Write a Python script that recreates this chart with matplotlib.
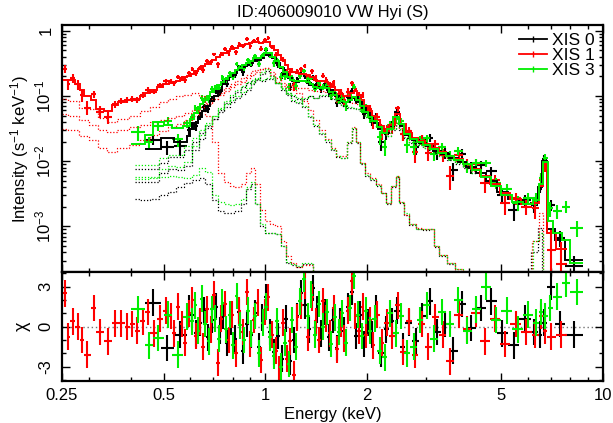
#!/usr/bin/env python3

import matplotlib

matplotlib.use("Agg")
import matplotlib.pyplot as plt
import numpy as np
from matplotlib.lines import Line2D
from matplotlib.ticker import FixedLocator, LogLocator, MultipleLocator, NullFormatter

plt.rcParams["font.family"] = ["Liberation Sans", "DejaVu Sans"]
plt.rcParams["mathtext.fontset"] = "custom"
plt.rcParams["mathtext.rm"] = "Liberation Sans"
plt.rcParams["mathtext.it"] = "Liberation Sans:italic"
plt.rcParams["mathtext.bf"] = "Liberation Sans:bold"

TITLE = "ID:406009010 VW Hyi (S)"
LABELS = ["XIS 0", "XIS 1", "XIS 3"]
COLORS = ["#000000", "#ff0000", "#00ee00"]

# ---------------- XIS 0 (FI) ----------------
xis0_edges = [0.44, 0.49, 0.535, 0.585, 0.600,
              0.616, 0.633, 0.650, 0.668, 0.686, 0.704, 0.723, 0.742, 0.762, 0.783,
              0.804, 0.826, 0.848, 0.871, 0.894, 0.918, 0.943, 0.968, 0.994, 1.021,
              1.048, 1.076, 1.105, 1.135, 1.166, 1.197, 1.229, 1.262, 1.296, 1.331,
              1.367, 1.404, 1.442, 1.481, 1.521, 1.562, 1.604, 1.647, 1.691, 1.737,
              1.784, 1.832, 1.881, 1.932, 1.984, 2.037, 2.092,
              2.16, 2.24, 2.32, 2.41, 2.50, 2.60, 2.72, 2.85, 2.99, 3.14,
              3.31, 3.50, 3.71, 3.94, 4.20, 4.50, 4.84, 5.22, 5.65, 6.10,
              6.40, 6.60, 6.82, 7.20, 7.70, 8.70]
xis0_model = [0.0155, 0.023, 0.020, 0.024, 0.031, 0.038, 0.047, 0.058, 0.07, 0.085,
              0.10, 0.118, 0.15, 0.175, 0.20, 0.225, 0.25, 0.275, 0.30, 0.32,
              0.345, 0.36, 0.38, 0.43, 0.43, 0.38, 0.32, 0.27, 0.22, 0.19,
              0.172, 0.165, 0.168, 0.17, 0.16, 0.145, 0.132, 0.135, 0.138, 0.125,
              0.11, 0.098, 0.088, 0.081, 0.082, 0.092, 0.095, 0.08, 0.065, 0.054,
              0.046, 0.039, 0.031, 0.027, 0.034, 0.048, 0.034, 0.025, 0.021, 0.019,
              0.017, 0.0145, 0.0128, 0.0112, 0.0097, 0.0082, 0.0066, 0.0050, 0.0034, 0.0026,
              0.0022, 0.0023, 0.0040, 0.0102, 0.0009, 0.00062, 0.00031]
xis0_flux = [0.021, 0.0166, 0.017, 0.0296, 0.0355, 0.035, 0.049, 0.068, 0.063, 0.09,
             0.1165, 0.114, 0.162, 0.1546, 0.2076, 0.2061, 0.2753, 0.23, 0.3054, 0.3026,
             0.376, 0.31, 0.405, 0.51, 0.415, 0.315, 0.299, 0.208, 0.233, 0.138,
             0.153, 0.179, 0.213, 0.199, 0.157, 0.191, 0.152, 0.1275, 0.1545, 0.114,
             0.1165, 0.079, 0.092, 0.078, 0.097, 0.1206, 0.087, 0.089, 0.0533, 0.0564,
             0.0418, 0.048, 0.020, 0.026, 0.0362, 0.0558, 0.0258, 0.0264, 0.0166, 0.0218,
             0.0227, 0.0134, 0.0133, 0.0072, 0.0131, 0.008, 0.0086, 0.0071, 0.003, 0.0018,
             0.0025, 0.0021, 0.0037, 0.0107, 0.0021, 0.00066, 0.00025]
xis0_err = [0.003, 0.004, 0.005, 0.004, 0.005, 0.006, 0.007, 0.008, 0.009, 0.01,
            0.011, 0.013, 0.015, 0.017, 0.019, 0.021, 0.023, 0.025, 0.027, 0.029,
            0.031, 0.033, 0.035, 0.038, 0.038, 0.034, 0.03, 0.026, 0.022, 0.02,
            0.019, 0.018, 0.018, 0.018, 0.017, 0.016, 0.015, 0.015, 0.015, 0.014,
            0.013, 0.012, 0.011, 0.01, 0.01, 0.011, 0.011, 0.01, 0.009, 0.008,
            0.007, 0.0065, 0.0055, 0.005, 0.0055, 0.0065, 0.0055, 0.0045, 0.004, 0.0035,
            0.003, 0.0028, 0.0025, 0.0022, 0.002, 0.0017, 0.0014, 0.0011, 0.0008, 0.0006,
            0.0005, 0.0005, 0.0005, 0.0018, 0.0004, 0.00018, 0.0001]
xis0_chi = [1.8, -1.6, -0.6, 1.4, 0.9, -0.5, 0.3, 1.2, -0.8, 0.5,
            1.5, -0.3, 0.8, -1.2, 0.4, -0.9, 1.1, -1.8, 0.2, -0.6,
            1.0, -1.5, 0.7, 2.2, -0.4, -1.9, -0.7, -2.4, 0.6, -2.6,
            -1.0, 0.8, 2.5, 1.6, -0.2, 2.9, 1.3, -0.5, 1.1, -0.8,
            0.5, -1.6, 0.4, -0.3, 1.5, 2.6, -0.7, 0.9, -1.3, 0.3,
            -0.6, 1.4, -2.0, -0.2, 0.4, 1.2, -1.5, 0.3, -1.1, 0.8,
            1.9, -0.4, 0.2, -1.8, 1.7, -0.1, 1.4, 1.9, -0.5, -1.4,
            0.6, -0.4, -0.6, 0.3, 3.0, 0.2, -0.6]

# ---------------- XIS 1 (BI) ----------------
xis1_edges = [0.252, 0.258, 0.264, 0.274, 0.282, 0.291, 0.304, 0.316, 0.332, 0.351,
              0.366, 0.383, 0.397, 0.411, 0.425, 0.441, 0.457, 0.477, 0.499, 0.518,
              0.531, 0.544, 0.558, 0.572, 0.586, 0.601, 0.616, 0.631, 0.647, 0.663,
              0.680, 0.697, 0.714, 0.732, 0.750, 0.769, 0.788, 0.808, 0.828, 0.849,
              0.870, 0.892, 0.914, 0.937, 0.960, 0.984, 1.009, 1.034, 1.060, 1.087,
              1.114, 1.142, 1.170, 1.199, 1.229, 1.260, 1.292, 1.324, 1.357, 1.391,
              1.426, 1.462, 1.498, 1.536, 1.574, 1.613, 1.654, 1.695, 1.737, 1.781,
              1.825, 1.871, 1.918, 1.966, 2.015, 2.065, 2.117,
              2.18, 2.25, 2.33, 2.42, 2.51, 2.61, 2.72, 2.84, 2.97, 3.11,
              3.27, 3.44, 3.63, 3.84, 4.07, 4.33, 4.62, 4.95, 5.32, 5.72,
              6.15, 6.45, 6.62, 6.82, 7.25, 7.80]
xis1_model = [0.175, 0.175, 0.174, 0.150, 0.122, 0.100, 0.086, 0.062, 0.058, 0.072,
              0.082, 0.086, 0.088, 0.090, 0.100, 0.112, 0.122, 0.138, 0.152,
              0.158, 0.165, 0.172, 0.182, 0.195, 0.205, 0.22, 0.24, 0.26, 0.285,
              0.31, 0.335, 0.36, 0.39, 0.42, 0.455, 0.49, 0.52, 0.55, 0.575,
              0.6, 0.62, 0.64, 0.665, 0.66, 0.645, 0.67, 0.66, 0.59, 0.5,
              0.42, 0.35, 0.295, 0.26, 0.235, 0.222, 0.218, 0.218, 0.21, 0.195,
              0.178, 0.167, 0.168, 0.165, 0.152, 0.137, 0.122, 0.108, 0.099, 0.1,
              0.11, 0.117, 0.104, 0.086, 0.07, 0.058, 0.05,
              0.042, 0.034, 0.029, 0.036, 0.053, 0.037, 0.027, 0.0225, 0.0205, 0.0185,
              0.016, 0.014, 0.0122, 0.0107, 0.0092, 0.0076, 0.006, 0.0045, 0.0033, 0.0026,
              0.0022, 0.0023, 0.0042, 0.0095, 0.0008, 0.00045]
xis1_flux = [0.26, 0.1525, 0.1852, 0.150, 0.102, 0.0664, 0.1056, 0.0572, 0.047, 0.0743,
             0.0843, 0.086, 0.0898, 0.0873, 0.104, 0.1241, 0.1165, 0.1452, 0.1676,
             0.1692, 0.158, 0.1945, 0.1852, 0.1746, 0.223, 0.258, 0.2253, 0.2688, 0.249,
             0.3438, 0.3294, 0.432, 0.3036, 0.4404, 0.5162, 0.452, 0.556, 0.466, 0.6278,
             0.582, 0.7396, 0.5789, 0.689, 0.7464, 0.5275, 0.7228, 0.7656, 0.563, 0.4262,
             0.3016, 0.3599, 0.2254, 0.2303, 0.145, 0.2388, 0.2548, 0.2893, 0.1924, 0.2412,
             0.186, 0.148, 0.2041, 0.1764, 0.143, 0.1608, 0.0948, 0.111, 0.0864, 0.1168,
             0.1576, 0.1282, 0.1001, 0.104, 0.064, 0.0625, 0.0388,
             0.0483, 0.0268, 0.0307, 0.0318, 0.0642, 0.026, 0.0289, 0.0137, 0.0213, 0.0134,
             0.0181, 0.0124, 0.006, 0.0126, 0.0088, 0.0092, 0.0046, 0.0051, 0.0023, 0.0027,
             0.002, 0.0019, 0.0051, 0.0089, 0.00043, 0.00027]
xis1_err = [0.034, 0.03, 0.028, 0.025, 0.02, 0.016, 0.014, 0.012, 0.01, 0.009,
            0.009, 0.009, 0.009, 0.009, 0.010, 0.011, 0.011, 0.012, 0.013,
            0.014, 0.014, 0.015, 0.016, 0.017, 0.018, 0.019, 0.021, 0.022, 0.024,
            0.026, 0.028, 0.030, 0.032, 0.034, 0.036, 0.038, 0.040, 0.042, 0.044,
            0.045, 0.046, 0.047, 0.048, 0.048, 0.047, 0.048, 0.048, 0.045, 0.041,
            0.037, 0.033, 0.029, 0.027, 0.025, 0.024, 0.023, 0.023, 0.022, 0.021,
            0.020, 0.019, 0.019, 0.019, 0.018, 0.017, 0.016, 0.015, 0.014, 0.014,
            0.014, 0.014, 0.013, 0.012, 0.010, 0.009, 0.008,
            0.007, 0.006, 0.0055, 0.006, 0.007, 0.0058, 0.0048, 0.0042, 0.0038, 0.0034,
            0.003, 0.0027, 0.0024, 0.0021, 0.0019, 0.0016, 0.0013, 0.0010, 0.0008, 0.0006,
            0.0005, 0.0006, 0.0011, 0.002, 0.0005, 0.0003]
xis1_chi = [2.5, -0.75, 0.4, 0.0, -1.0, -2.1, 1.4, -0.4, -1.1, 0.25,
            0.25, 0.0, 0.2, -0.3, 0.4, 1.1, -0.5, 0.6, 1.2,
            0.8, -0.5, 1.5, 0.2, -1.2, 1.0, 2.0, -0.7, 0.4, -1.5,
            1.3, -0.2, 2.4, -2.7, 0.6, 1.7, -1.0, 0.9, -2.0, 1.2,
            -0.4, 2.6, -1.3, 0.5, 1.8, -2.5, 1.1, 2.2, -0.6, -1.8,
            -3.2, 0.3, -2.4, -1.1, -3.6, 0.7, 1.6, 3.1, -0.8, 2.2,
            0.4, -1.0, 1.9, 0.6, -0.5, 1.4, -1.7, 0.2, -0.9, 1.2,
            3.4, 0.8, -0.3, 1.5, -0.6, 0.5, -1.4,
            0.9, -1.2, 0.3, -0.7, 1.6, -1.9, 0.4, -2.1, 0.2, -1.5,
            0.7, -0.6, -2.6, 0.9, -0.2, 1.0, -1.1, 0.6, -1.3, 0.2,
            -0.4, -0.6, 0.8, -0.3, -0.75, -0.6]

# ---------------- XIS 3 (FI) ----------------
xis3_edges = [0.40, 0.44, 0.465, 0.50, 0.53, 0.57, 0.60,
              0.613, 0.627, 0.641, 0.656, 0.671, 0.687, 0.703, 0.720, 0.737, 0.755,
              0.774, 0.793, 0.813, 0.833, 0.854, 0.876, 0.898, 0.921, 0.945, 0.969,
              0.994, 1.019, 1.045, 1.072, 1.100, 1.128, 1.157, 1.187, 1.218, 1.250,
              1.283, 1.317, 1.352, 1.388, 1.425, 1.463, 1.502, 1.542, 1.583, 1.626,
              1.670, 1.715, 1.762, 1.810, 1.860, 1.911, 1.964, 2.018, 2.074,
              2.14, 2.22, 2.30, 2.39, 2.48, 2.58, 2.69, 2.81, 2.94, 3.08,
              3.24, 3.42, 3.62, 3.84, 4.08, 4.35, 4.66, 5.00, 5.38, 5.80,
              6.20, 6.45, 6.62, 6.85, 7.10, 7.55, 8.00, 8.70]
xis3_model = [0.0185, 0.025, 0.040, 0.036, 0.032, 0.034, 0.045, 0.054, 0.064, 0.075,
              0.087, 0.10, 0.113, 0.128, 0.145, 0.163, 0.183, 0.205, 0.228, 0.25,
              0.272, 0.295, 0.318, 0.34, 0.375, 0.385, 0.405, 0.455, 0.455, 0.40,
              0.34, 0.28, 0.23, 0.197, 0.178, 0.167, 0.167, 0.172, 0.165, 0.15,
              0.137, 0.133, 0.138, 0.13, 0.116, 0.102, 0.091, 0.083, 0.081, 0.088,
              0.097, 0.086, 0.07, 0.057, 0.048, 0.041, 0.033, 0.027, 0.031, 0.047,
              0.037, 0.026, 0.022, 0.0195, 0.0175, 0.0155, 0.0135, 0.0118, 0.0103, 0.0089,
              0.0074, 0.0058, 0.0042, 0.003, 0.0024, 0.0022, 0.0025, 0.0045, 0.0098, 0.0012,
              0.0008, 0.00062, 0.00028]
xis3_flux = [0.0279, 0.0194, 0.0349, 0.0414, 0.0215, 0.0378, 0.0474, 0.0652, 0.0616, 0.0939,
             0.089, 0.0879, 0.1286, 0.1358, 0.1315, 0.1936, 0.1792, 0.2239, 0.1958, 0.3075,
             0.2747, 0.266, 0.3552, 0.3235, 0.4038, 0.311, 0.4167, 0.518, 0.4214, 0.3164,
             0.3532, 0.196, 0.2012, 0.1382, 0.1875, 0.14, 0.2012, 0.2368, 0.1786, 0.1884,
             0.128, 0.1585, 0.138, 0.1454, 0.0991, 0.1104, 0.0866, 0.093, 0.069, 0.102,
             0.1388, 0.095, 0.0637, 0.0666, 0.0459, 0.0449, 0.0231, 0.0167, 0.036, 0.044,
             0.041, 0.0176, 0.0163, 0.0212, 0.0223, 0.013, 0.0163, 0.0122, 0.0143, 0.0084,
             0.0094, 0.0094, 0.0047, 0.0038, 0.0023, 0.0027, 0.0027, 0.0056, 0.0112, 0.0019,
             0.0017, 0.0020, 0.00096]
xis3_err = [0.0072, 0.004, 0.006, 0.006, 0.005, 0.005, 0.006, 0.007, 0.008, 0.009,
            0.010, 0.011, 0.012, 0.013, 0.015, 0.017, 0.019, 0.021, 0.023, 0.025,
            0.027, 0.029, 0.031, 0.033, 0.036, 0.037, 0.039, 0.042, 0.042, 0.038,
            0.033, 0.028, 0.024, 0.021, 0.019, 0.018, 0.018, 0.018, 0.017, 0.016,
            0.015, 0.015, 0.015, 0.014, 0.013, 0.012, 0.011, 0.010, 0.010, 0.010,
            0.011, 0.010, 0.009, 0.008, 0.007, 0.0065, 0.0055, 0.0045, 0.005, 0.006,
            0.005, 0.0042, 0.0038, 0.0034, 0.003, 0.0028, 0.0025, 0.0022, 0.002, 0.0018,
            0.0015, 0.0012, 0.0009, 0.0007, 0.0006, 0.0005, 0.0006, 0.001, 0.0018, 0.0005,
            0.0004, 0.00042, 0.00026]
xis3_chi = [1.3, -1.4, -0.85, 0.9, -2.1, 0.75, 0.4, 1.6, -0.3, 2.1,
            0.2, -1.1, 1.3, 0.6, -0.9, 1.8, -0.2, 0.9, -1.4, 2.3,
            0.1, -1.0, 1.2, -0.5, 0.8, -2.0, 0.3, 1.5, -0.8, -2.2,
            0.4, -3.0, -1.2, -2.8, 0.5, -1.5, 1.9, 3.6, 0.8, 2.4,
            -0.6, 1.7, 0.0, 1.1, -1.3, 0.7, -0.4, 1.0, -1.2, 1.4,
            3.8, 0.9, -0.7, 1.2, -0.3, 0.6, -1.8, -2.3, 1.0, -0.5,
            0.8, -2.0, -1.5, 0.5, 1.6, -0.9, 1.1, 0.2, 2.0, -0.3,
            1.3, 3.0, 0.5, 1.2, -0.2, 0.9, 0.3, 1.1, 0.8, 1.4,
            2.25, 3.25, 2.6]

# ---------------- model components (dotted) ----------------
comp_e_bi = [0.25, 0.27, 0.29, 0.31, 0.33, 0.35, 0.38, 0.41, 0.44, 0.47,
             0.50, 0.53, 0.56, 0.59, 0.62, 0.65, 0.68, 0.71, 0.74, 0.77,
             0.80, 0.83, 0.86, 0.89, 0.92, 0.95, 0.98, 1.01, 1.05, 1.09,
             1.13, 1.17, 1.21, 1.26, 1.31, 1.36, 1.41, 1.47, 1.53, 1.59,
             1.65, 1.71, 1.77, 1.83, 1.88, 1.94, 2.00, 2.08, 2.16, 2.24,
             2.32, 2.40, 2.46, 2.53, 2.62, 2.72, 2.85, 3.00, 3.10, 3.20,
             3.35, 3.55, 3.75, 3.95, 4.2]
xis1_cool = [0.091, 0.085, 0.066, 0.062, 0.046, 0.040, 0.045, 0.050, 0.058, 0.068,
             0.080, 0.090, 0.10, 0.105, 0.11, 0.10, 0.05, 0.02, 0.0065, 0.0048,
             0.0042, 0.0040, 0.0045, 0.0065, 0.0080, 0.0045, 0.0018, 0.0012, 0.0011, 0.0010,
             0.0006, 0.00035, 0.00028, 0.00024, 0.00026, 0.00026, 0.00015]
xis1_warm = [0.052, 0.050, 0.042, 0.036, 0.030, 0.028, 0.030, 0.033, 0.036, 0.040,
             0.043, 0.046, 0.050, 0.055, 0.060, 0.068, 0.078, 0.090, 0.105, 0.12,
             0.135, 0.15, 0.165, 0.185, 0.21, 0.235, 0.255, 0.265, 0.21, 0.165,
             0.14, 0.13, 0.125, 0.11, 0.085, 0.06, 0.042, 0.03, 0.022, 0.016,
             0.012, 0.012, 0.02, 0.033, 0.02, 0.0095, 0.0065, 0.0055, 0.0045, 0.0033,
             0.0023, 0.0042, 0.006, 0.0024, 0.0015, 0.0011, 0.00095, 0.0009, 0.0009, 0.0005,
             0.00036, 0.00028, 0.00022, 0.00018, 0.00014]
xis1_hot = [0.031, 0.030, 0.024, 0.021, 0.016, 0.014, 0.016, 0.018, 0.021, 0.025,
            0.029, 0.033, 0.037, 0.042, 0.05, 0.06, 0.075, 0.09, 0.11, 0.13,
            0.15, 0.17, 0.19, 0.21, 0.24, 0.25, 0.26, 0.27, 0.23, 0.19,
            0.16, 0.145, 0.135, 0.13, 0.13, 0.125, 0.12, 0.12, 0.115, 0.105,
            0.092, 0.085, 0.08, 0.078, 0.075, 0.066, 0.055, 0.045, 0.037, 0.031,
            0.027, 0.033, 0.04, 0.032, 0.025, 0.021, 0.019, 0.017, 0.016, 0.0145,
            0.013, 0.0113, 0.0099, 0.0086, 0.0071]

comp_e_fi = [0.41, 0.44, 0.47, 0.50, 0.53, 0.56, 0.59, 0.62, 0.65, 0.68,
             0.71, 0.74, 0.77, 0.80, 0.83, 0.86, 0.89, 0.92, 0.95, 0.98,
             1.01, 1.05, 1.09, 1.13, 1.17, 1.21, 1.26, 1.31, 1.36, 1.41,
             1.47, 1.53, 1.59, 1.65, 1.71, 1.77, 1.83, 1.88, 1.94, 2.00,
             2.08, 2.16, 2.24, 2.32, 2.40, 2.46, 2.53, 2.62, 2.72, 2.85,
             3.00, 3.10, 3.20, 3.35, 3.55, 3.75, 3.95, 4.2]
xis0_cool = [0.0026, 0.0025, 0.0026, 0.0030, 0.0034, 0.0040, 0.0046, 0.0052, 0.0055, 0.0045,
             0.0025, 0.0017, 0.0016, 0.0016, 0.0017, 0.0022, 0.0038, 0.0045, 0.0022, 0.0010,
             0.0008, 0.00078, 0.00076, 0.0005, 0.00028, 0.00026, 0.00024, 0.00027, 0.00027, 0.00015]
xis3_cool = [0.0054, 0.0054, 0.0055, 0.0058, 0.0060, 0.0058, 0.0055, 0.0062, 0.0080, 0.0068,
             0.0030, 0.0024, 0.0022, 0.0021, 0.0022, 0.0026, 0.0040, 0.0048, 0.0022, 0.0011,
             0.0008, 0.00078, 0.00076, 0.0005, 0.00029, 0.00027, 0.00025, 0.00028, 0.00028, 0.00015]
xis0_warm = [0.0077, 0.0077, 0.0077, 0.0095, 0.0115, 0.0115, 0.015, 0.02, 0.027, 0.035,
             0.045, 0.056, 0.068, 0.08, 0.093, 0.107, 0.125, 0.15, 0.18, 0.22,
             0.245, 0.2, 0.155, 0.125, 0.11, 0.1, 0.09, 0.068, 0.048, 0.035,
             0.026, 0.02, 0.015, 0.0115, 0.011, 0.019, 0.031, 0.019, 0.009, 0.006,
             0.0052, 0.0042, 0.0032, 0.0022, 0.004, 0.0058, 0.0023, 0.0015, 0.00105, 0.0009,
             0.00088, 0.0009, 0.00048, 0.00035, 0.00027, 0.00021, 0.00017, 0.00013]
xis3_warm = [0.0088, 0.0088, 0.0088, 0.011, 0.0125, 0.0125, 0.017, 0.023, 0.03, 0.039,
             0.05, 0.062, 0.075, 0.088, 0.1, 0.115, 0.133, 0.158, 0.19, 0.23,
             0.255, 0.205, 0.158, 0.127, 0.112, 0.102, 0.092, 0.07, 0.049, 0.036,
             0.027, 0.021, 0.0155, 0.012, 0.0113, 0.0195, 0.032, 0.0195, 0.0093, 0.0062,
             0.0054, 0.0043, 0.0033, 0.0023, 0.0041, 0.006, 0.0024, 0.0016, 0.0011, 0.00093,
             0.0009, 0.00092, 0.0005, 0.00036, 0.00028, 0.00022, 0.00018, 0.00014]
xis0_hot = [0.0048, 0.0048, 0.0048, 0.0065, 0.0075, 0.0072, 0.0085, 0.015, 0.022, 0.032,
            0.045, 0.06, 0.078, 0.095, 0.115, 0.135, 0.155, 0.17, 0.175, 0.17,
            0.18, 0.18, 0.155, 0.13, 0.105, 0.085, 0.078, 0.09, 0.098, 0.092,
            0.1, 0.1, 0.09, 0.078, 0.07, 0.066, 0.065, 0.062, 0.056, 0.047,
            0.04, 0.033, 0.027, 0.024, 0.03, 0.038, 0.03, 0.023, 0.019, 0.0175,
            0.0158, 0.015, 0.0135, 0.012, 0.0105, 0.0092, 0.008, 0.0066]
xis3_hot = [0.0058, 0.0058, 0.0058, 0.0075, 0.0085, 0.0082, 0.0098, 0.017, 0.025, 0.036,
            0.05, 0.066, 0.085, 0.103, 0.123, 0.143, 0.163, 0.178, 0.183, 0.178,
            0.188, 0.185, 0.158, 0.133, 0.107, 0.087, 0.08, 0.092, 0.1, 0.094,
            0.102, 0.102, 0.092, 0.08, 0.072, 0.068, 0.066, 0.063, 0.057, 0.048,
            0.041, 0.034, 0.028, 0.0245, 0.031, 0.039, 0.031, 0.0235, 0.0195, 0.018,
            0.016, 0.0152, 0.0137, 0.0122, 0.0107, 0.0094, 0.0082, 0.0067]

# Fe K gaussian component, binned
xis0_gau_edges = [6.10, 6.40, 6.60]
xis0_gau = [0.0004, 0.00095]
xis1_gau_edges = [6.15, 6.45, 6.62]
xis1_gau = [0.0006, 0.0016]
xis3_gau_edges = [6.20, 6.45, 6.62]
xis3_gau = [0.0006, 0.0008]


def bin_centres(edges):
    e = np.asarray(edges)
    return 0.5 * (e[:-1] + e[1:]), 0.5 * (e[1:] - e[:-1])


def plot_spectrum(path):
    data_sets = [
        (COLORS[0], xis0_edges, xis0_flux, xis0_err, xis0_model, xis0_chi),
        (COLORS[1], xis1_edges, xis1_flux, xis1_err, xis1_model, xis1_chi),
        (COLORS[2], xis3_edges, xis3_flux, xis3_err, xis3_model, xis3_chi),
    ]
    comp_sets = [
        (COLORS[0], comp_e_fi, [xis0_cool, xis0_warm, xis0_hot], xis0_gau_edges, xis0_gau),
        (COLORS[1], comp_e_bi, [xis1_cool, xis1_warm, xis1_hot], xis1_gau_edges, xis1_gau),
        (COLORS[2], comp_e_fi, [xis3_cool, xis3_warm, xis3_hot], xis3_gau_edges, xis3_gau),
    ]

    fig = plt.figure(figsize=(6.13, 4.23), dpi=100)
    ax = fig.add_axes([0.1011, 0.3558, 0.8826, 0.5851])
    rax = fig.add_axes([0.1011, 0.1, 0.8826, 0.2558], sharex=ax)

    ax.set_xscale("log")
    ax.set_yscale("log")
    ax.set_xlim(0.25, 10)
    ax.set_ylim(1.97e-4, 1.22)
    rax.set_ylim(-4.05, 4.07)

    rax.axhline(0, color="0.45", linestyle=(0, (1, 2)), linewidth=1.0, zorder=1)

    for color, edges, flux, err, model, chi in data_sets:
        x, xw = bin_centres(edges)
        ax.errorbar(x, flux, xerr=xw, yerr=err, fmt="none", ecolor=color,
                    elinewidth=1.5, capsize=0, zorder=2)
        rax.errorbar(x, chi, xerr=xw, yerr=1.0, fmt="none", ecolor=color,
                     elinewidth=1.5, capsize=0, zorder=2)

    for color, e, comps, g_edges, g_vals in comp_sets:
        for c in comps:
            ax.plot(e[:len(c)], c, color=color, linestyle=(0, (1, 1.5)), linewidth=0.9,
                    drawstyle="steps-mid", zorder=2.5)
        ax.stairs(g_vals, g_edges, baseline=1e-6, color=color,
                  linestyle=(0, (1, 1.5)), linewidth=0.9, zorder=2.5)

    for color, edges, flux, err, model, chi in data_sets:
        ax.stairs(model, edges, baseline=None, color=color, linewidth=1.4, zorder=3)

    # ticks
    ax.set_yticks([1e-3, 1e-2, 1e-1, 1],
                  ["$10^{-3}$", "$10^{-2}$", "$10^{-1}$", "1"],
                  rotation=90, va="center")
    ax.yaxis.set_minor_locator(LogLocator(base=10, subs=np.arange(2, 10)))
    ax.yaxis.set_minor_formatter(NullFormatter())

    rax.set_yticks([-3, 0, 3], ["-3", "0", "3"], rotation=90, va="center")
    rax.yaxis.set_minor_locator(MultipleLocator(1))

    rax.set_xticks([0.25, 0.5, 1, 2, 5, 10], ["0.25", "0.5", "1", "2", "5", "10"])
    rax.xaxis.set_minor_locator(FixedLocator([0.3, 0.4, 0.6, 0.7, 0.8, 0.9, 3, 4, 6, 7, 8, 9]))
    rax.xaxis.set_minor_formatter(NullFormatter())

    for a in (ax, rax):
        a.tick_params(which="both", direction="in", top=True, right=True, width=1.0)
        a.tick_params(which="major", length=5.5)
        a.tick_params(which="minor", length=3)
        a.tick_params(axis="y", labelsize=12, pad=6)
        a.tick_params(axis="x", labelsize=12, pad=5)
        for side in a.spines.values():
            side.set_linewidth(1.6)
    ax.tick_params(labelbottom=False)

    ax.set_title(TITLE, fontsize=12, pad=6)
    ax.set_ylabel("Intensity (s$^{-1}$ keV$^{-1}$)", fontsize=12)
    ax.yaxis.set_label_coords(-0.058, 0.5)
    rax.set_ylabel("χ", fontsize=13)
    rax.yaxis.set_label_coords(-0.058, 0.5)
    rax.set_xlabel("Energy (keV)", fontsize=12, labelpad=3)

    handles = [Line2D([], [], color=c, linewidth=1.3, marker="|", markersize=5,
                      markeredgewidth=1.0) for c in COLORS]
    ax.legend(handles, LABELS, loc="upper right", frameon=False, fontsize=12.5,
              handlelength=1.6, handletextpad=0.3, labelspacing=0.0,
              borderaxespad=0.25, borderpad=0.2)

    fig.savefig(path, dpi=100)
    plt.close(fig)


def main():
    plot_spectrum("out.png")


if __name__ == "__main__":
    main()
